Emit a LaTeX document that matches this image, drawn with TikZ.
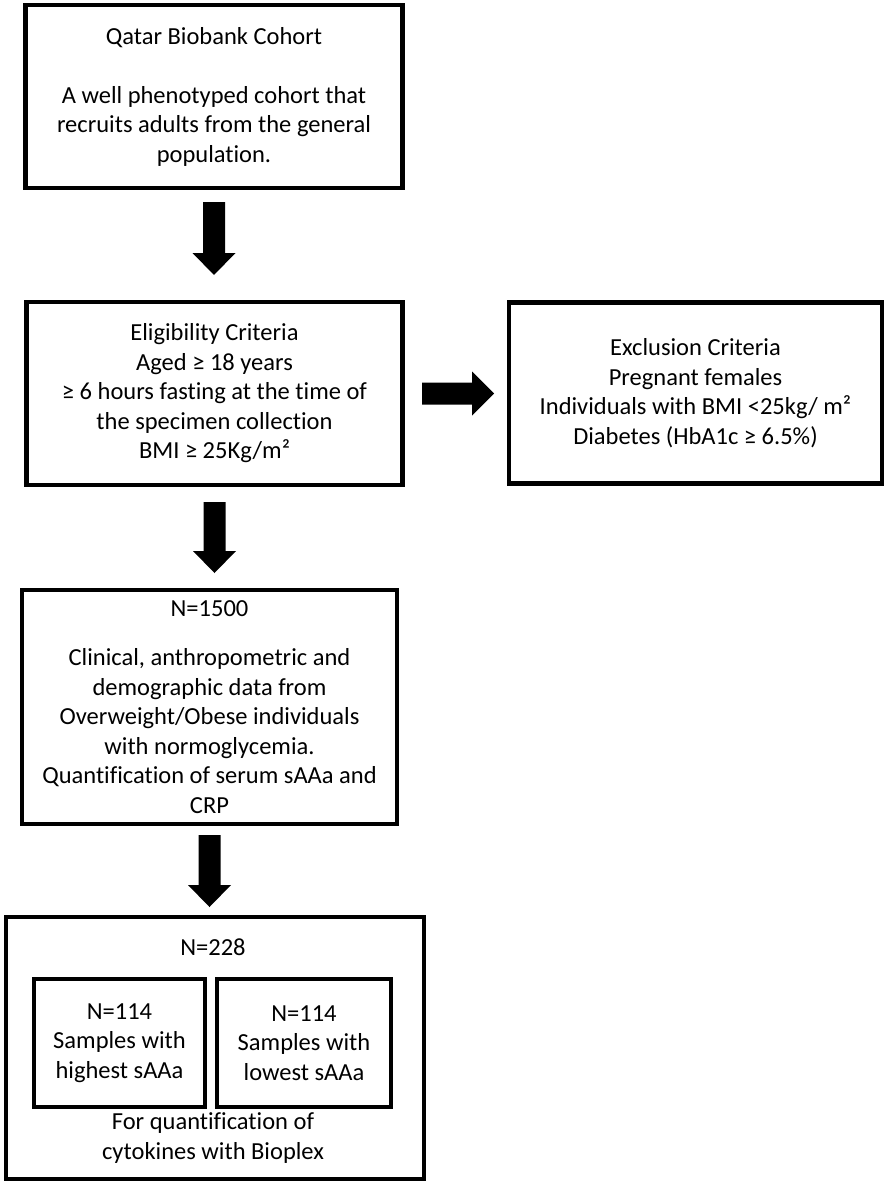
\documentclass[tikz,border=0pt]{standalone}
\usepackage{fontspec}
\setmainfont{Carlito}[Ligatures=NoCommon]
\usetikzlibrary{calc}
\newcommand{\myDownArrow}[4]{\fill let \p1=($(#1.south)+(0,#3)$), \p2=($(#2.north)-(0,#4)$) in
 (\x1-11pt,\y1) -- (\x1+11pt,\y1) -- (\x1+11pt,\y2+22pt) -- (\x1+21.5pt,\y2+22pt) -- (\x1,\y2) -- (\x1-21.5pt,\y2+22pt) -- (\x1-11pt,\y2+22pt) -- cycle;}
\newcommand{\myRightArrow}[4]{\fill let \p1=($(#1.east)+(#3,0)$), \p2=($(#2.west)-(#4,0)$) in
 (\x1,\y1+11pt) -- (\x2-22pt,\y1+11pt) -- (\x2-22pt,\y1+22pt) -- (\x2,\y1) -- (\x2-22pt,\y1-22pt) -- (\x2-22pt,\y1-11pt) -- (\x1,\y1-11pt) -- cycle;}
\begin{document}
\begin{tikzpicture}[x=1pt,y=-1pt,
  box/.style={draw, line width=4.5pt, inner sep=0pt, outer sep=0pt, align=center, text=black, font=\fontsize{24.5}{29.5}\selectfont},
  txt/.style={inner sep=0pt, outer sep=0pt, align=center, text=black, font=\fontsize{24.5}{29.5}\selectfont}]
\useasboundingbox[fill=white] (0,0) rectangle (886,1185);
\node[box, minimum width=377pt, minimum height=183pt] (b1) at (214,96.5)
  {Qatar Biobank Cohort\\[29.5pt]A well phenotyped cohort that\\recruits adults from the general\\population.};
\node[box, minimum width=376pt, minimum height=183pt] (b2) at (214.5,393.5)
  {Eligibility Criteria\\Aged ≥ 18 years\\≥ 6 hours fasting at the time of\\the specimen collection\\BMI ≥ 25Kg/m²};
\node[box, minimum width=373pt, minimum height=181pt] (ex) at (695.5,393)
  {Exclusion Criteria\\Pregnant females\\Individuals with BMI <25kg/ m²\\Diabetes (HbA1c ≥ 6.5\%)};
\node[box, minimum width=375pt, minimum height=234pt] (b3) at (209.5,707)
  {N=1500\\[20pt]Clinical, anthropometric and\\demographic data from\\Overweight/Obese individuals\\with normoglycemia.\\Quantification of serum sAAa and\\CRP};
\node[box, minimum width=418pt, minimum height=262pt] (b4) at (215,1048) {};
\node[txt] (n228) at (213,947) {N=228};
\node[box, minimum width=171pt, minimum height=128pt] (hi) at (119.5,1043)
  {N=114\\Samples with\\highest sAAa};
\node[box, minimum width=174pt, minimum height=128pt] (lo) at (304,1043)
  {N=114\\Samples with\\lowest sAAa};
\node[txt] (bio) at (213,1138) {For quantification of\\cytokines with Bioplex};
\myDownArrow{b1}{b2}{14}{27}
\myRightArrow{b2}{ex}{19.5}{15}
\myDownArrow{b2}{b3}{17}{17}
\myDownArrow{b3}{b4}{11}{10}
\end{tikzpicture}
\end{document}
